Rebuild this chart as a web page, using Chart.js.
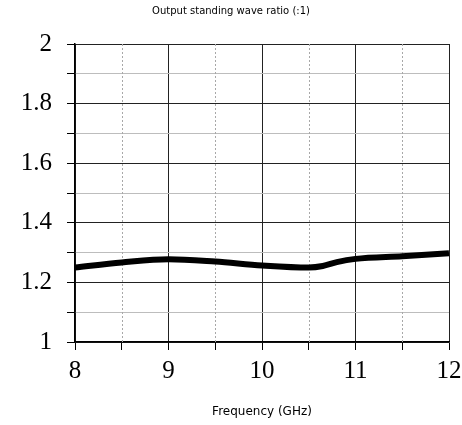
<!DOCTYPE html>
<html>
<head>
<meta charset="utf-8">
<script src="https://cdn.jsdelivr.net/npm/chart.js@4"></script>
<style>
  html, body { margin: 0; padding: 0; background: #fff; }
  #wrap { width: 462px; height: 425px; }
</style>
</head>
<body>
<div id="wrap"><canvas id="myChart" width="462" height="425"></canvas></div>
<script>
const freqs = [8, 8.5, 9, 9.5, 10, 10.5, 10.65, 10.8, 11, 11.5, 12]
const vswr = [1.25, 1.267, 1.278, 1.27, 1.257, 1.25, 1.255, 1.268, 1.279, 1.288, 1.298]
const xTicks = [8, 9, 10, 11, 12]
const yTicks = [1, 1.2, 1.4, 1.6, 1.8, 2]

const serif = "'Liberation Serif', 'DejaVu Serif', serif"
const sans = "'DejaVu Sans', sans-serif"

const isMajorX = (v) => xTicks.some((t) => Math.abs(t - v) < 1e-6)
const isMajorY = (v) => yTicks.some((t) => Math.abs(t - v) < 1e-6)

// dotted minor gridlines on the x axis (half GHz)
const dottedGrid = {
  id: 'dottedGrid',
  beforeDatasetsDraw(chart) {
    const { ctx, chartArea, scales } = chart
    const x = scales.x
    ctx.save()
    ctx.strokeStyle = '#a8a8a8'
    ctx.lineWidth = 1
    ctx.setLineDash([2, 2])
    x.ticks.forEach((t) => {
      if (isMajorX(t.value)) return
      const px = Math.round(x.getPixelForValue(t.value)) + 0.5
      ctx.beginPath()
      ctx.moveTo(px, chartArea.top)
      ctx.lineTo(px, chartArea.bottom)
      ctx.stroke()
    })
    ctx.restore()
  },
}

const ctx = document.getElementById('myChart').getContext('2d')

new Chart(ctx, {
  type: 'line',
  data: {
    datasets: [
      {
        data: freqs.map((f, i) => ({ x: f, y: vswr[i] })),
        borderColor: '#000',
        borderWidth: 6,
        pointRadius: 0,
        cubicInterpolationMode: 'monotone',
        fill: false,
        clip: false,
      },
    ],
  },
  plugins: [dottedGrid],
  options: {
    responsive: false,
    animation: false,
    layout: { padding: { left: 0, right: 0, top: 0, bottom: 6 } },
    plugins: {
      legend: { display: false },
      tooltip: { enabled: false },
      title: {
        display: true,
        text: 'Output standing wave ratio (:1)',
        color: '#000',
        font: { family: sans, size: 10, weight: 'normal' },
        padding: { top: 5, bottom: 27 },
      },
    },
    scales: {
      x: {
        type: 'linear',
        min: 8,
        max: 12,
        ticks: {
          stepSize: 0.5,
          color: '#000',
          padding: 6,
          maxRotation: 0,
          autoSkip: false,
          font: { family: serif, size: 25 },
          callback: (v) => (isMajorX(v) ? String(v) : ''),
        },
        grid: {
          color: (c) => (isMajorX(c.tick.value) ? '#222' : 'rgba(0,0,0,0)'),
          lineWidth: 1,
          tickLength: 8,
          tickColor: '#000',
        },
        border: { display: true, color: '#000', width: 1.5 },
        title: {
          display: true,
          text: 'Frequency (GHz)',
          color: '#000',
          font: { family: sans, size: 12 },
          padding: { top: 19, bottom: 0 },
        },
        afterFit: (scale) => {
          scale.height = 77
          scale.paddingLeft = 0
          scale.paddingRight = 13
        },
      },
      y: {
        min: 1,
        max: 2,
        ticks: {
          stepSize: 0.1,
          color: '#000',
          padding: 15,
          autoSkip: false,
          font: { family: serif, size: 25 },
          callback: (v) => (isMajorY(v) ? String(Math.round(v * 10) / 10) : ''),
        },
        grid: {
          color: (c) => (isMajorY(c.tick.value) ? '#222' : '#bdbdbd'),
          lineWidth: 1,
          tickLength: 8,
          tickColor: '#000',
        },
        border: { display: true, color: '#000', width: 1.5 },
        afterFit: (scale) => {
          scale.width = 75
        },
      },
    },
  },
})
</script>
</body>
</html>
